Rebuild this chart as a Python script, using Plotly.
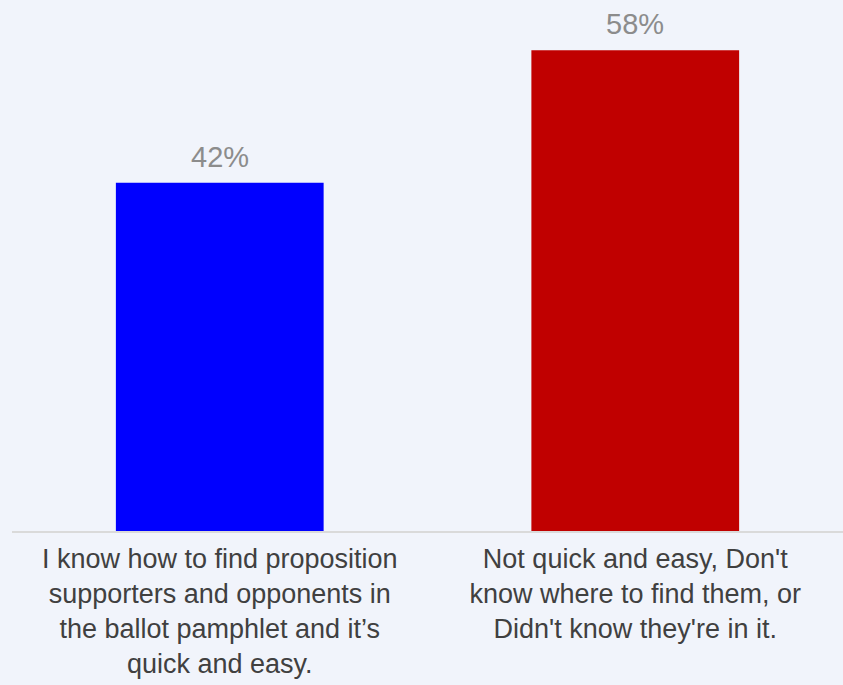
import plotly.graph_objects as go

categories = [
    "I know how to find proposition<br>supporters and opponents in<br>the ballot pamphlet and it\u2019s<br>quick and easy.",
    "Not quick and easy, Don't<br>know where to find them, or<br>Didn't know they're in it.",
]
values = [42, 58]
labels = ["42%", "58%"]
colors = ["#0000FF", "#C00000"]

fig = go.Figure(
    go.Bar(
        x=categories,
        y=values,
        marker=dict(color=colors, line=dict(width=0)),
        hoverinfo="skip",
    )
)

for c, v, t in zip(categories, values, labels):
    fig.add_annotation(
        x=c, y=v, text=t, showarrow=False, yanchor="bottom", yshift=8,
        font=dict(family="Liberation Sans, Arial", size=29, color="#8C8C8C"),
    )

fig.update_layout(
    width=843,
    height=685,
    margin=dict(l=12, r=0, t=0, b=154),
    paper_bgcolor="#F1F4FB",
    plot_bgcolor="rgba(0,0,0,0)",
    bargap=0.5,
    showlegend=False,
    font=dict(family="Liberation Sans, Arial", size=27, color="#404040"),
)
fig.update_xaxes(
    showline=True,
    linecolor="#DADADA",
    linewidth=1.5,
    ticks="",
    ticklabelstandoff=3,
    automargin=False,
    tickfont=dict(size=27, color="#404040"),
    showgrid=False,
)
fig.update_yaxes(range=[0, 64.05], visible=False, showgrid=False, zeroline=False, automargin=False)

fig.write_html(
    "out.html",
    config={"displayModeBar": False},
    post_script="document.body.style.margin='0';document.body.style.background='#F1F4FB';",
)
